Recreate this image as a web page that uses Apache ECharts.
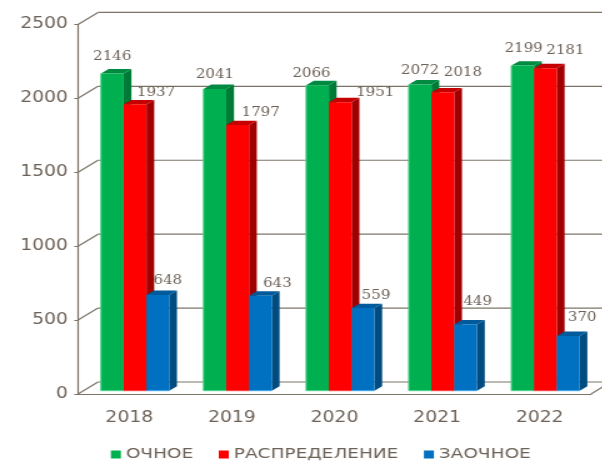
<!DOCTYPE html>
<html>
<head>
<meta charset="utf-8">
<style>
  html, body { margin: 0; padding: 0; background: #fff; overflow: hidden; }
  /* the picture is wider than tall by a fixed stretch, so draw narrow and stretch the lot */
  #chart { width: 482px; height: 461px; transform: scaleX(1.25); transform-origin: 0 0; }
</style>
</head>
<body>
<div id="chart"></div>
<script src="https://cdn.jsdelivr.net/npm/echarts@6/dist/echarts.min.js"></script>
<script>
const years = ['2018', '2019', '2020', '2021', '2022'];
const ochnoe = [2146, 2041, 2066, 2072, 2199];
const raspred = [1937, 1797, 1951, 2018, 2181];
const zaochnoe = [648, 643, 559, 449, 370];
const yTicks = [0, 500, 1000, 1500, 2000, 2500];

// hand placed labels in the original, offsets from the bar's top centre [dx, dy]
const labelNudgeOchnoe = [[0, -17], [0, -14], [-6, -11], [0, -14], [1, -17]];
const labelNudgeRaspred = [[21, -11], [23, -12], [35, -9], [20, -19], [20, -17]];
const labelNudgeZaochnoe = [[10, -14], [17, -12], [13, -12], [12, -22], [14, -18]];

const textColor = '#6d6258';
const wallColor = '#7d7468';
const wallDx = 16, wallDy = -12;
const barDx = 6.2, barDy = -4.4;
const floorDy = -3.3;

const chart = echarts.init(document.getElementById('chart'));

function renderWall(params, api) {
  const cs = params.coordSys;
  const y = api.coord([0, api.value(1)])[1];
  const parts = [
    // side wall tick + back wall line
    { type: 'line', shape: { x1: cs.x, y1: y, x2: cs.x + wallDx, y2: y + wallDy } },
    { type: 'line', shape: { x1: cs.x + wallDx, y1: y + wallDy, x2: cs.x + cs.width + wallDx, y2: y + wallDy } }
  ];
  if (api.value(1) === 0) {
    parts.push({ type: 'line', shape: { x1: cs.x + cs.width, y1: y, x2: cs.x + cs.width + wallDx, y2: y + wallDy } });
  }
  return {
    type: 'group',
    children: parts.map(p => Object.assign(p, { style: { stroke: wallColor, lineWidth: 1.2, fill: null } }))
  };
}

function makeRender(slot, colors, nudges) {
  return function (params, api) {
    const i = api.value(0);
    const top = api.coord([i, api.value(1)]);
    const base = api.coord([i, 0]);
    const w = api.size([1, 0])[0] * 0.222;
    const x = top[0] + 4.6 + (slot - 1.5) * w;
    const y0 = base[1] + floorDy;
    const y1 = top[1] + floorDy;
    const n = nudges[i];
    const children = [
      { type: 'polygon', shape: { points: [[x + w, y1], [x + w + barDx, y1 + barDy], [x + w + barDx, y0 + barDy], [x + w, y0]] }, style: { fill: colors.side } },
      { type: 'polygon', shape: { points: [[x, y1], [x + barDx, y1 + barDy], [x + w + barDx, y1 + barDy], [x + w, y1]] }, style: { fill: colors.top } },
      { type: 'rect', shape: { x: x, y: y1, width: w, height: y0 - y1 }, style: { fill: colors.front } },
      { type: 'line', shape: { x1: x, y1: y0, x2: x + w, y2: y0 }, style: { stroke: colors.edge, lineWidth: 1 } },
      {
        type: 'text', z2: 100,
        style: {
          x: x + w / 2 + n[0] / 1.25, y: y1 + n[1],
          text: String(api.value(1)),
          fill: textColor,
          font: '12px "DejaVu Serif"',
          align: 'center', verticalAlign: 'middle'
        }
      }
    ];
    if (slot === 0) {
      children.push({ type: 'line', shape: { x1: x, y1: y1, x2: x, y2: y0 }, style: { stroke: colors.edge, lineWidth: 1 } });
    }
    return { type: 'group', children: children };
  };
}

function barSeries(name, values, slot, colors, nudges) {
  return {
    name: name,
    type: 'custom',
    renderItem: makeRender(slot, colors, nudges),
    encode: { x: 0, y: 1 },
    itemStyle: { color: colors.front },
    z: 3,
    data: values.map((v, i) => [i, v])
  };
}

chart.setOption({
  animation: false,
  backgroundColor: '#fff',
  textStyle: { fontFamily: '"DejaVu Sans"', color: textColor },
  grid: { left: 62.4, right: 9.2, top: 24.4, bottom: 67 },
  legend: {
    data: ['ОЧНОЕ', 'РАСПРЕДЕЛЕНИЕ', 'ЗАОЧНОЕ'],
    left: 83.7,
    top: 442,
    icon: 'rect',
    itemWidth: 8,
    itemHeight: 8,
    itemGap: 20.4,
    textStyle: { fontSize: 14.8, color: textColor, padding: [0, 0, 0, -1] }
  },
  xAxis: {
    type: 'category',
    data: years,
    axisLine: { lineStyle: { color: wallColor, width: 1.2 } },
    axisTick: { length: 5, lineStyle: { color: wallColor } },
    axisLabel: { fontSize: 15, color: textColor, margin: 16.5, fontFamily: '"DejaVu Sans"' }
  },
  yAxis: {
    type: 'value',
    min: 0,
    max: 2500,
    interval: 500,
    axisLine: { show: true, lineStyle: { color: wallColor, width: 1.2 } },
    axisTick: { show: true, length: 3, lineStyle: { color: wallColor } },
    axisLabel: { fontSize: 15, color: textColor, margin: 8, fontFamily: '"DejaVu Sans"', formatter: v => String(v) },
    splitLine: { show: false }
  },
  series: [
    {
      type: 'custom',
      renderItem: renderWall,
      encode: { x: 0, y: 1 },
      z: 1,
      silent: true,
      data: yTicks.map(t => [0, t])
    },
    barSeries('ОЧНОЕ', ochnoe, 0, { front: '#00b050', side: '#007a37', top: '#008a41', edge: '#4fd58e' }, labelNudgeOchnoe),
    barSeries('РАСПРЕДЕЛЕНИЕ', raspred, 1, { front: '#ff0000', side: '#a00000', top: '#c40000', edge: '#ff4040' }, labelNudgeRaspred),
    barSeries('ЗАОЧНОЕ', zaochnoe, 2, { front: '#0070c0', side: '#004c80', top: '#005a9b', edge: '#3fa8f0' }, labelNudgeZaochnoe)
  ]
});
</script>
</body>
</html>
